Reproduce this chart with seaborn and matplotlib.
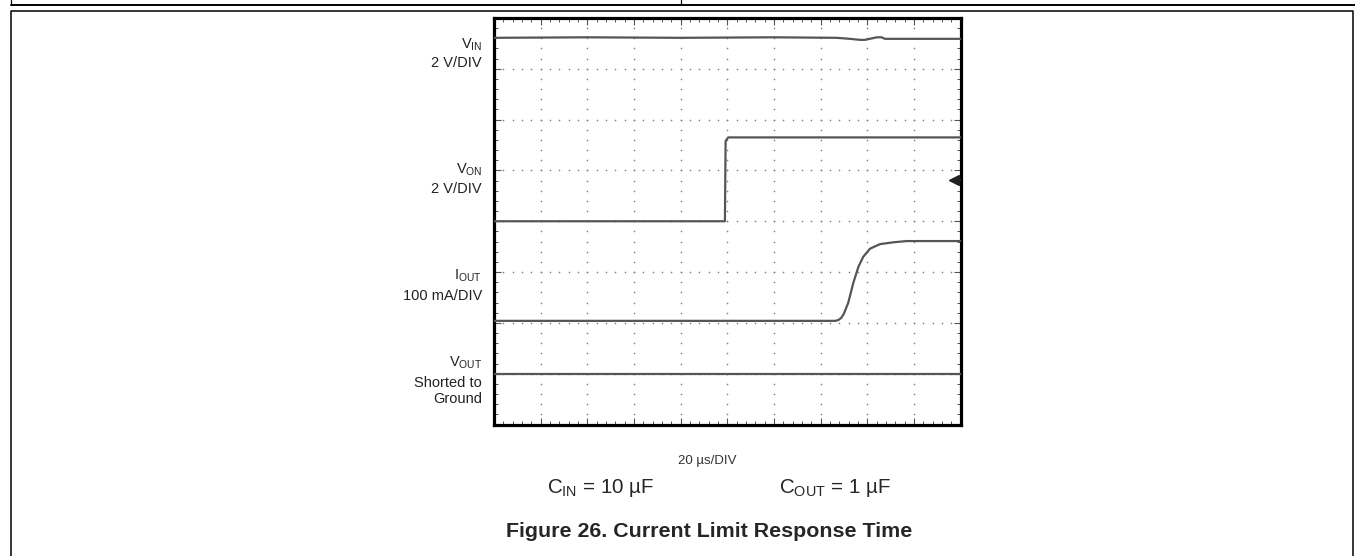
import numpy as np
import pandas as pd
import matplotlib.pyplot as plt
from matplotlib.lines import Line2D
import seaborn as sns

sns.set_style("white")
plt.rcParams['font.family'] = ['Liberation Sans', 'DejaVu Sans']
plt.rcParams['mathtext.fontset'] = 'custom'
plt.rcParams['mathtext.rm'] = 'Liberation Sans'
plt.rcParams['mathtext.it'] = 'Liberation Sans:italic'
plt.rcParams['mathtext.bf'] = 'Liberation Sans:bold'

# time in us (20 us/DIV), amplitude in screen divisions (8 DIV tall)
vin_t = [0, 40, 80, 120, 146.9, 152.6, 156.9, 159.1, 164.1, 166.2, 167.6, 200]
vin_y = [7.61, 7.62, 7.61, 7.62, 7.61, 7.59, 7.57, 7.57, 7.62, 7.62, 7.59, 7.59]

von_t = [0, 99.0, 99.3, 100.4, 200]
von_y = [4.0, 4.0, 5.58, 5.65, 5.65]

iout_t = [0, 146.5, 147.8, 148.9, 150.0, 151.9, 154.0, 156.2, 158.3, 161.2, 165.5, 171.1, 176.9, 200]
iout_y = [2.04, 2.04, 2.06, 2.10, 2.18, 2.40, 2.78, 3.10, 3.30, 3.46, 3.55, 3.585, 3.61, 3.61]

vout_t = [0, 200]
vout_y = [1.0, 1.0]

trig_t = 197.0
trig_y = 4.81

ch_labels = [
    (r'V$_{\mathrm{IN}}$', 48.3), ('2 V/DIV', 67.3),
    (r'V$_{\mathrm{ON}}$', 173.3), ('2 V/DIV', 193.3),
    (r'I$_{\mathrm{OUT}}$', 280), ('100 mA/DIV', 300),
    (r'V$_{\mathrm{OUT}}$', 366.7), ('Shorted to', 386.7), ('Ground', 403.3),
]

W, H = 1355, 556
fig = plt.figure(figsize=(W / 100, H / 100), dpi=100)
ax = fig.add_axes([494 / W, 1 - 424.5 / H, 466.5 / W, 406.5 / H])

# dotted graticule
maj_x = np.arange(20, 200, 20)
maj_y = np.arange(1, 8, 1)
minor_x = np.arange(0, 200.1, 4)
minor_y = np.arange(0, 8.01, 0.2)
gx, gy = np.meshgrid(maj_x, minor_y)
ax.scatter(gx.ravel(), gy.ravel(), s=1.4, color='#80808c', lw=0, zorder=1)
gx, gy = np.meshgrid(minor_x, maj_y)
ax.scatter(gx.ravel(), gy.ravel(), s=1.4, color='#80808c', lw=0, zorder=1)

trace_color = '#555555'
for t, y in [(vin_t, vin_y), (von_t, von_y), (iout_t, iout_y), (vout_t, vout_y)]:
    df = pd.DataFrame({'t': t, 'y': y})
    sns.lineplot(data=df, x='t', y='y', ax=ax, color=trace_color, lw=1.6,
                 estimator=None, sort=False, zorder=3)

ax.plot([trig_t, 200], [trig_y, trig_y], color='#222222', lw=1.4, zorder=4)
ax.plot([trig_t], [trig_y], marker='<', ms=6.5, color='#222222', zorder=4)

ax.set_xlim(0, 200)
ax.set_ylim(0, 8)
ax.set_xticks(np.arange(0, 201, 20))
ax.set_yticks(np.arange(0, 9, 1))
ax.set_xticks(minor_x, minor=True)
ax.set_yticks(minor_y, minor=True)
ax.tick_params(which='both', direction='in', top=True, right=True, bottom=True, left=True,
               labelbottom=False, labelleft=False, color='#555555')
ax.tick_params(which='major', length=5, width=0.8)
ax.tick_params(which='minor', length=3, width=0.7)
ax.set_xlabel('')
ax.set_ylabel('')
for sp in ax.spines.values():
    sp.set_linewidth(2.3)
    sp.set_color('black')
    sp.set_visible(True)

for txt, base in ch_labels:
    fig.text(482 / W, 1 - base / H, txt, ha='right', va='baseline', fontsize=10.5, color='#222222')

fig.text(707 / W, 1 - 464.3 / H, '20 µs/DIV', ha='center', va='baseline', fontsize=9.5, color='#333333')
fig.text(600.8 / W, 1 - 493.3 / H, r'C$_{\mathrm{IN}}$ = 10 µF', ha='center', va='baseline', fontsize=14.8)
fig.text(835 / W, 1 - 493.3 / H, r'C$_{\mathrm{OUT}}$ = 1 µF', ha='center', va='baseline', fontsize=14.8)
fig.text(709 / W, 1 - 537.3 / H, 'Figure 26. Current Limit Response Time', ha='center', va='baseline',
         fontsize=15.4, fontweight='bold')

# page frame
fig.add_artist(Line2D([10.5 / W, 1], [1 - 4.5 / H, 1 - 4.5 / H], color='black', lw=1.4))
fig.add_artist(Line2D([10.5 / W, 10.5 / W], [1, 1 - 4.5 / H], color='black', lw=0.9))
fig.add_artist(Line2D([681 / W, 681 / W], [1, 1 - 4.5 / H], color='black', lw=0.9))
fig.add_artist(Line2D([10.5 / W, 10.5 / W, 1353 / W, 1353 / W],
                      [-0.01, 1 - 11 / H, 1 - 11 / H, -0.01], color='black', lw=1.1))

fig.savefig('out.png', dpi=100)
